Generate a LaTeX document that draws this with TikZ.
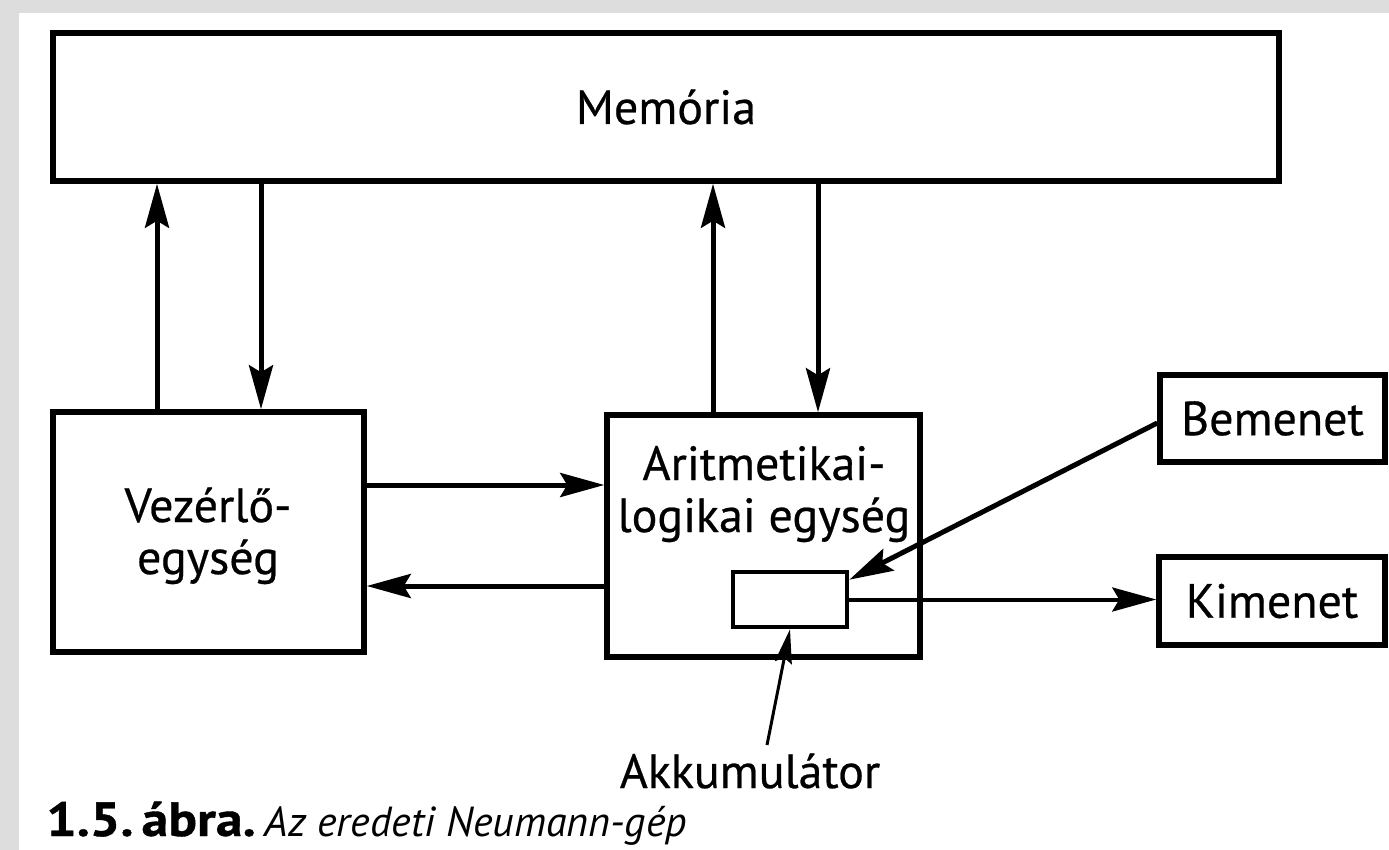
\documentclass[tikz,border=0pt]{standalone}
\usepackage{fontspec}
\setmainfont{PT Sans}
\newfontfamily\diagfont{PT Sans}[FakeBold=0.5]
\newfontfamily\capbold{PT Sans Bold}[FakeBold=0.8, FakeStretch=1.12]
\usetikzlibrary{arrows.meta,calc}
\definecolor{bordergray}{RGB}{221,221,221}
\begin{document}
\begin{tikzpicture}[x=1pt,y=-1pt,
  font=\diagfont\fontsize{48}{54}\selectfont,
  box/.style={draw, line width=5.5pt, inner sep=0pt, anchor=center},
  arr/.style={line width=5pt, -{Stealth[length=44pt,width=24pt,inset=7pt]}},
  lbl/.style={anchor=base, inner sep=0pt}]
\fill[bordergray] (0,0) rectangle (1389,850);
\fill[white] (19,13) rectangle (1389,850);
\useasboundingbox (0,0) rectangle (1389,850);

\node[box, minimum width=1226pt, minimum height=148pt] (mem) at (666,107) {Memória};
\node[box, minimum width=311pt, minimum height=240pt] (vez) at (208.5,532) {};
\node[lbl] (vez1) at (208,522) {Vezérlő-};
\node[lbl] (vez2) at (208,574) {egység};
\node[box, minimum width=313pt, minimum height=242pt] (alu) at (763.5,536) {};
\node[lbl] (alu1) at (764,480) {Aritmetikai-};
\node[lbl] (alu2) at (764,532) {logikai egység};
\node[box, line width=4.5pt, minimum width=114pt, minimum height=55pt] (acc) at (790,599.5) {};
\node[box, minimum width=225pt, minimum height=87pt] (bem) at (1272.5,418.5) {Bemenet};
\node[box, minimum width=226pt, minimum height=88pt] (kim) at (1272,601) {Kimenet};
\node[lbl] (akk) at (750,788) {Akkumulátor};
\node[anchor=base west, inner sep=0pt] (cap) at (46,836) {{\capbold\fontsize{48}{50}\selectfont 1.5.\hspace{8pt}ábra.}\hspace{9pt}{\rmfamily\itshape\fontsize{42}{50}\selectfont Az eredeti Neumann-gép}};

\coordinate (x1) at (157,0);
\coordinate (x2) at (261,0);
\coordinate (x3) at (713,0);
\coordinate (x4) at (818,0);
\coordinate (y1) at (0,485);
\coordinate (y2) at (0,586);
\coordinate (akkstart) at (767,745);

\draw[arr] (x1 |- vez.north) -- (x1 |- mem.south);
\draw[arr] (x2 |- mem.south) -- (x2 |- vez.north);
\draw[arr] (x3 |- alu.north) -- (x3 |- mem.south);
\draw[arr] (x4 |- mem.south) -- (x4 |- alu.north);
\draw[arr] (vez.east |- y1) -- (alu.west |- y1);
\draw[arr] (alu.west |- y2) -- (vez.east |- y2);
\draw[arr] ([yshift=-4.5pt]bem.west) -- ([yshift=-10pt]acc.north east);
\draw[arr, line width=4pt] (acc.east) -- (acc.east -| kim.west);
\draw[line width=3pt, -{Stealth[length=34pt,width=17pt,inset=5pt]}] (akkstart) -- (acc.south);
\end{tikzpicture}
\end{document}
